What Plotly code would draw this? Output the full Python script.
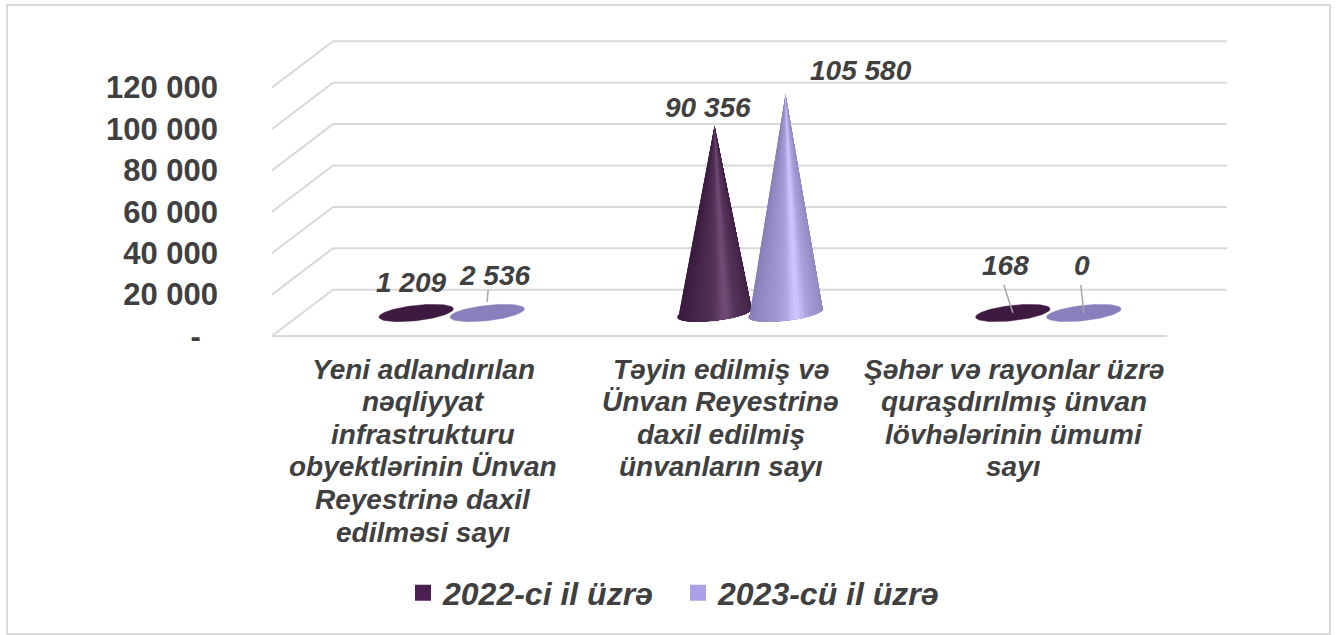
import numpy as np
import plotly.graph_objects as go

categories = [
    ["Yeni adlandırılan", "nəqliyyat", "infrastrukturu", "obyektlərinin Ünvan", "Reyestrinə daxil", "edilməsi sayı"],
    ["Təyin edilmiş və", "Ünvan Reyestrinə", "daxil edilmiş", "ünvanların sayı"],
    ["Şəhər və rayonlar üzrə", "quraşdırılmış ünvan", "lövhələrinin ümumi", "sayı"],
]
values_2022 = [1209, 90356, 168]
values_2023 = [2536, 105580, 0]
labels_2022 = ["1 209", "90 356", "168"]
labels_2023 = ["2 536", "105 580", "0"]
series_names = ["2022-ci il üzrə", "2023-cü il üzrə"]
y_ticks = [0, 20000, 40000, 60000, 80000, 100000, 120000]
y_tick_text = ["-\u00a0\u00a0", "20 000", "40 000", "60 000", "80 000", "100 000", "120 000"]

W, H = 1338, 635
L, R, T, B = 272, 1228, 30, 342
BASE = 336                # pixel row of the value zero
PX_X = 895 / 3            # pixels per category
PX_Y = 41.4 / 20000       # pixels per value unit
X0 = -0.5
X1 = X0 + (R - L) / PX_X
Y0 = -(B - BASE) / PX_Y
Y1 = (BASE - T) / PX_Y
GRID = "#d9d9d9"
TEXT = "#404040"
FONT = "Liberation Sans"


def dx(px):
    return px / PX_X


def dy(px):
    return px / PX_Y


DEPTH_X, DEPTH_Y = 61, 46.3
fig = go.Figure()


def add_line(xs, ys, color=GRID, width=2):
    fig.add_trace(go.Scatter(x=xs, y=ys, mode="lines", line=dict(color=color, width=width),
                             showlegend=False, hoverinfo="skip"))


# walls and floor
for t in y_ticks:
    add_line([X0, X0 + dx(DEPTH_X), X0 + dx(955)], [t, t + dy(DEPTH_Y), t + dy(DEPTH_Y)])
add_line([X0, X0 + 3], [0, 0])


def mix(a, b, f):
    return "rgb(%d,%d,%d)" % tuple(a[i] + (b[i] - a[i]) * f for i in range(3))


RX, RY, TILT = 37.5, 7.6, np.radians(-6.5)


def ellipse(theta):
    ex, ey = RX * np.cos(theta), RY * np.sin(theta)
    # pixel offsets with y pointing down
    return ex * np.cos(TILT) - ey * np.sin(TILT), ex * np.sin(TILT) + ey * np.cos(TILT)


def add_cone(cat, offset_px, value, edge, centre, flat):
    cx = cat + dx(30.5 + offset_px)
    cy = dy(23)
    th = np.linspace(0, 2 * np.pi, 80)
    ex, ey = ellipse(th)
    fig.add_trace(go.Scatter(x=cx + dx(ex), y=cy - dy(ey), mode="lines", fill="toself", fillcolor=flat,
                             line=dict(color=flat, width=0.5), showlegend=False, hoverinfo="skip"))
    if value * PX_Y <= RY * 2:
        return
    n = 36
    ths = np.linspace(np.pi + TILT, TILT, n + 1)
    ex, ey = ellipse(ths)
    xs, ys = cx + dx(ex), cy - dy(ey)
    # painted from the left: each fan covers what is still to come, so no seams show
    for i in range(n):
        u = (i + 0.5) / n
        base = max(0.0, 1 - abs(u - 0.55) / 0.55)
        f = 0.62 * base ** 1.3 + 0.38 * np.exp(-((u - 0.55) / 0.07) ** 2)
        col = mix(edge, centre, f)
        fig.add_trace(go.Scatter(x=np.r_[cx, xs[i:], cx], y=np.r_[cy + value, ys[i:], cy + value],
                                 mode="lines", fill="toself", fillcolor=col,
                                 line=dict(color=col, width=0), showlegend=False, hoverinfo="skip"))


DARK = dict(edge=(56, 26, 60), centre=(112, 76, 116), flat="#3e1a40")
LIGHT = dict(edge=(134, 124, 182), centre=(208, 198, 255), flat="#8a7fbc")
for c in range(3):
    add_cone(c, -35.5, values_2022[c], **DARK)
    add_cone(c, 35.5, values_2023[c], **LIGHT)

# label positions relative to the top of each mark (pixels)
shift_2022 = [(-5, 28), (-7, 18), (-7, 47)]
shift_2023 = [(7, 32), (75, 24), (-2, 48)]
for c in range(3):
    for off, vals, labs, shifts in [(-35.5, values_2022, labels_2022, shift_2022),
                                    (35.5, values_2023, labels_2023, shift_2023)]:
        fig.add_annotation(x=c + dx(30.5 + off), y=dy(23) + vals[c], text=labs[c], showarrow=False,
                           xshift=shifts[c][0], yshift=shifts[c][1],
                           font=dict(family=FONT, size=28, color=TEXT, weight="bold", style="italic"))

# leader lines
leaders = [(0, 35.5, values_2023[0], 1, 6, 18), (2, -35.5, values_2022[2], -9, 0, 28), (2, 35.5, values_2023[2], -3, 0, 28)]
for c, off, v, tx, by, ty in leaders:
    x = c + dx(30.5 + off)
    y = dy(23) + v
    add_line([x, x + dx(tx)], [y + dy(by), y + dy(ty)], color="#a6a6a6", width=1.5)

# category labels, one annotation per line to keep the tight line spacing
label_shift = [2, 1, -4]
for c, lines in enumerate(categories):
    for j, line in enumerate(lines):
        fig.add_annotation(x=c, y=0, text=line, showarrow=False, xshift=label_shift[c], yshift=-(33 + 32.6 * j),
                           font=dict(family=FONT, size=28, color=TEXT, weight="bold", style="italic"))

# legend
for name, col in zip(series_names, ["#4a2050", "#ab9fe6"]):
    fig.add_trace(go.Scatter(x=[None], y=[None], mode="markers", name=name,
                             marker=dict(symbol="square", size=17, color=col)))

fig.add_shape(type="rect", xref="paper", yref="paper",
              x0=(7 - L) / (R - L), x1=(1330 - L) / (R - L),
              y0=(B - 634) / (B - T), y1=(B - 5) / (B - T),
              line=dict(color=GRID, width=2), layer="below")

fig.update_layout(
    width=W, height=H, margin=dict(l=L, r=W - R, t=T, b=H - B, pad=0),
    paper_bgcolor="white", plot_bgcolor="white",
    xaxis=dict(range=[X0, X1], showticklabels=False, showgrid=False, zeroline=False, showline=False, ticks=""),
    yaxis=dict(range=[Y0, Y1], tickmode="array", tickvals=y_ticks, ticktext=y_tick_text,
               showgrid=False, zeroline=False, showline=False, ticks="", ticklabelstandoff=53,
               tickfont=dict(family=FONT, size=31, color=TEXT, weight="bold")),
    legend=dict(orientation="h", xanchor="left", yanchor="middle",
                x=(403 - L) / (R - L), y=(B - 593) / (B - T),
                font=dict(family=FONT, size=32, color=TEXT, weight="bold", style="italic"),
                itemwidth=30, entrywidth=230, entrywidthmode="pixels", bgcolor="rgba(0,0,0,0)"),
    hovermode=False,
)
fig.write_html("out.html", config=dict(displayModeBar=False),
               post_script="document.body.style.margin='0';document.body.style.overflow='hidden';")
